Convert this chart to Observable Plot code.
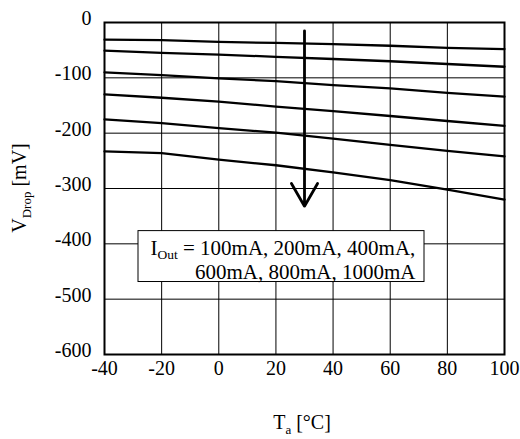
<!DOCTYPE html>
<html>
<head>
<meta charset="utf-8">
<script src="https://cdn.jsdelivr.net/npm/d3@7"></script>
<script src="https://cdn.jsdelivr.net/npm/@observablehq/plot@0.6"></script>
<style>
  html, body { margin: 0; padding: 0; background: #fff; }
  #chart { width: 520px; height: 439px; }
</style>
</head>
<body>
<div id="chart"></div>
<script>
// Data
const temps = [-40, -20, 0, 20, 40, 60, 80, 100];
const currents = ["100mA", "200mA", "400mA", "600mA", "800mA", "1000mA"];
const v100  = [-31, -32, -35, -37, -39, -42, -46, -48];
const v200  = [-51, -55, -58, -62, -66, -70, -75, -80];
const v400  = [-90, -95, -101, -106, -113, -119, -127, -134];
const v600  = [-130, -136, -143, -152, -160, -169, -178, -187];
const v800  = [-175, -182, -191, -199, -210, -221, -232, -242];
const v1000 = [-233, -236, -248, -258, -271, -285, -302, -320];
const series = [v100, v200, v400, v600, v800, v1000];

const xTicks = [-40, -20, 0, 20, 40, 60, 80, 100];
const yTicks = [-600, -500, -400, -300, -200, -100, 0];

// Annotation arrow (increasing current) and legend box, in data units
const arrowT = [30];
const arrowFrom = [-15];
const arrowTo = [-332];
const boxX = [-28.1, 72];
const boxY = [-377, -469];

const rows = [];
series.forEach((vals, i) => vals.forEach((v, j) => rows.push({current: currents[i], t: temps[j], v})));

const FONT = '"Liberation Serif", "Times New Roman", serif';

const plot = Plot.plot({
  width: 520,
  height: 439,
  marginLeft: 104,
  marginRight: 16,
  marginTop: 22,
  marginBottom: 85,
  style: {fontFamily: FONT, fontSize: "20px", color: "#000", background: "#fff", overflow: "visible"},
  x: {domain: [-40, 100]},
  y: {domain: [-600, 0]},
  marks: [
    Plot.gridX(xTicks.slice(1, -1), {stroke: "#000", strokeOpacity: 1, strokeWidth: 1}),
    Plot.gridY(yTicks.slice(1, -1), {stroke: "#000", strokeOpacity: 1, strokeWidth: 1}),
    Plot.axisX(xTicks, {tickSize: 0, tickPadding: 6, label: null, tickFormat: d => String(d), fontSize: 20}),
    Plot.axisY(yTicks, {tickSize: 0, tickPadding: 13, dy: -4, label: null, tickFormat: d => String(d), fontSize: 20}),
    Plot.line(rows, {x: "t", y: "v", z: "current", stroke: "#000", strokeWidth: 2.3}),
    Plot.arrow([0], {x: () => arrowT[0], y1: () => arrowFrom[0], y2: () => arrowTo[0], stroke: "#000", strokeWidth: 2.8, headLength: 14, headAngle: 60}),
    Plot.rect([0], {x1: () => boxX[0], x2: () => boxX[1], y1: () => boxY[0], y2: () => boxY[1], fill: "#fff", stroke: "#000", strokeWidth: 1}),
    Plot.frame({stroke: "#000", strokeWidth: 2})
  ]
});

document.getElementById("chart").appendChild(plot);

const svg = d3.select(plot);
const sx = plot.scale("x"), sy = plot.scale("y");

// Legend text inside box
const bx = sx.apply(boxX[0]);
const by = sy.apply(boxY[0]);
const t1 = svg.append("text").attr("x", bx + 12.5).attr("y", by + 24)
  .attr("text-anchor", "start")
  .attr("font-family", FONT).attr("font-size", 21).attr("fill", "#000");
t1.append("tspan").text("I");
t1.append("tspan").attr("font-size", 13.5).attr("dy", 4.5).text("Out");
t1.append("tspan").attr("dy", -4.5).text(" = " + currents.slice(0, 3).join(", ") + ",");
svg.append("text").attr("x", sx.apply(boxX[1]) - 8.5).attr("y", by + 48.5)
  .attr("text-anchor", "end")
  .attr("font-family", FONT).attr("font-size", 21).attr("fill", "#000")
  .text(currents.slice(3).join(", "));

// Axis titles with subscripts
const xt = svg.append("text").attr("x", 302).attr("y", 429).attr("text-anchor", "middle")
  .attr("font-family", FONT).attr("font-size", 20).attr("fill", "#000");
xt.append("tspan").text("T");
xt.append("tspan").attr("font-size", 13).attr("dy", 5).text("a");
xt.append("tspan").attr("dy", -5).text(" [°C]");

const yt = svg.append("text").attr("transform", "translate(26,188) rotate(-90)").attr("text-anchor", "middle")
  .attr("font-family", FONT).attr("font-size", 20).attr("fill", "#000");
yt.append("tspan").text("V");
yt.append("tspan").attr("font-size", 13).attr("dy", 5).text("Drop");
yt.append("tspan").attr("dy", -5).text(" [mV]");
</script>
</body>
</html>
